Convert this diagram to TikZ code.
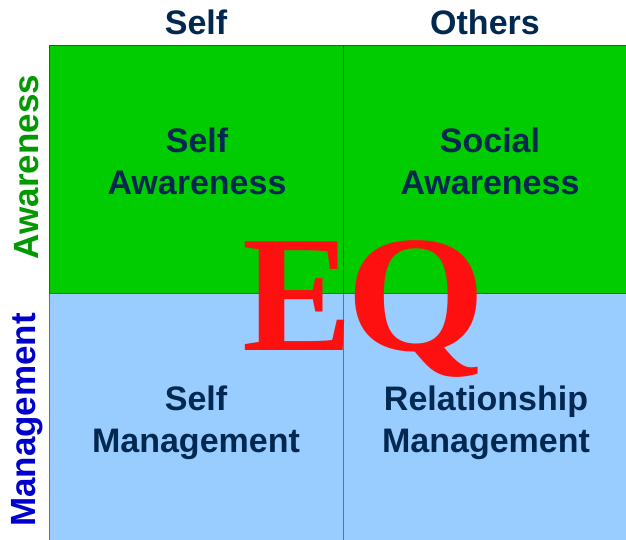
\documentclass[tikz,border=0pt]{standalone}
\usepackage{fontspec}
\setmainfont{Liberation Sans}
\newfontfamily\eqfont{Liberation Serif}
\definecolor{navy}{RGB}{0,40,80}
\definecolor{qgreen}{RGB}{0,204,0}
\definecolor{qblue}{RGB}{153,204,255}
\definecolor{lgreen}{RGB}{0,153,0}
\definecolor{lblue}{RGB}{0,0,204}
\definecolor{gline}{RGB}{0,110,60}
\definecolor{bline}{RGB}{70,120,175}
\definecolor{eqred}{RGB}{255,16,16}
\tikzset{
  quad/.style={line width=0.8pt},
  lab/.style={font=\fontsize{34}{42}\selectfont\bfseries, text=navy, align=center, inner sep=0pt},
  head/.style={font=\fontsize{34}{42}\selectfont\bfseries, text=navy, inner sep=0pt},
  side/.style={font=\fontsize{35}{42}\selectfont\bfseries, rotate=90, inner sep=0pt},
  eqletter/.style={font=\fontsize{166}{166}\selectfont\eqfont\bfseries, text=eqred, anchor=base west, inner sep=0pt, text depth=0pt}
}
\begin{document}
\begin{tikzpicture}[x=1pt,y=1pt]
\useasboundingbox (0,0) rectangle (626,540);
% quadrants
\filldraw[quad, fill=qgreen, draw=gline] (49,247) rectangle (343,495);
\filldraw[quad, fill=qgreen, draw=gline] (343,247) rectangle (630,495);
\filldraw[quad, fill=qblue, draw=bline] (49,-4) rectangle (343,247);
\filldraw[quad, fill=qblue, draw=bline] (343,-4) rectangle (630,247);
\draw[quad, draw=gline] (49,247) -- (343,247) -- (630,247);
% headers
\node[head, anchor=base] (hself) at (196,505) {Self};
\node[head, anchor=base] (hothers) at (485,505) {Others};
\node[side, text=lgreen] (saw) at (27,373) {Awareness};
\node[side, text=lblue] (sman) at (27,120) {Management};
% quadrant labels
\node[lab] (sa) at (197,379) {Self\\Awareness};
\node[lab] (soa) at (490,379) {Social\\Awareness};
\node[lab] (sm) at (196,117) {Self\\Management};
\node[lab] (rm) at (486,117) {Relationship\\Management};
% EQ
\node[eqletter] (eqe) at (242,189) {E};
\node[eqletter, xscale=1.08] (eqq) at (346,189) {Q};
\end{tikzpicture}
\end{document}
